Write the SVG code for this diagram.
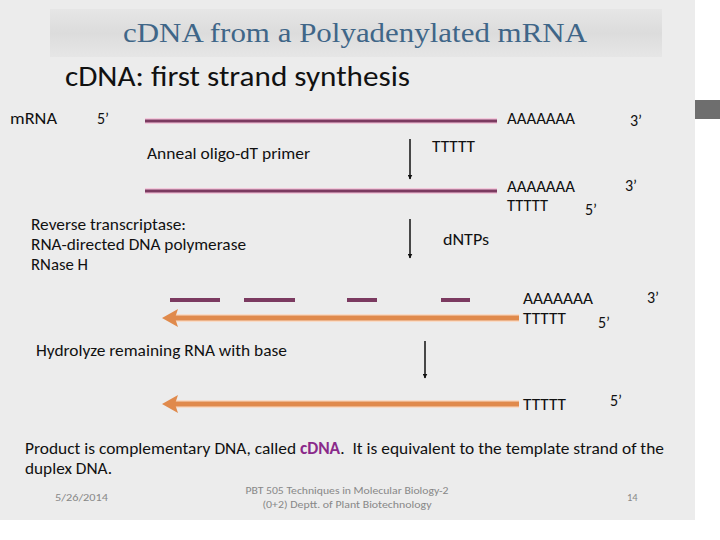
<svg xmlns="http://www.w3.org/2000/svg" width="720" height="540" viewBox="0 0 720 540">
<style>
text{font-family:"Carlito","Liberation Sans","Open Sans",sans-serif;fill:#111}
.s{font-size:16px}
.b{font-size:17px}
.f{font-size:10.5px;fill:#888}
.rna{stroke:#7b3a60;stroke-width:3;fill:none}
.halo{stroke:#f3c9dc;stroke-width:6;fill:none}
.dna{stroke:#e08a4c;stroke-width:5;fill:none}
.dhalo{stroke:#f8dcc8;stroke-width:8;fill:none}
.arr{stroke:#111;stroke-width:1.5;fill:none}
</style>
<defs>
<linearGradient id="tg" x1="0" y1="0" x2="0" y2="1">
<stop offset="0" stop-color="#e6e6e6"/><stop offset="0.5" stop-color="#dcdcdc"/><stop offset="1" stop-color="#e6e6e6"/>
</linearGradient>
<marker id="ah" viewBox="0 0 10 10" refX="9" refY="5" markerWidth="5" markerHeight="5" orient="auto" markerUnits="userSpaceOnUse">
<path d="M0,0 L10,5 L0,10 z" fill="#111"/>
</marker>
</defs>
<rect x="0" y="0" width="720" height="540" fill="#ffffff"/>
<rect x="0" y="0" width="695" height="520" fill="#ececec"/>
<rect x="695" y="100" width="25" height="19" fill="#6e6e6e"/>
<g id="title">
<rect x="50" y="9" width="612" height="48" fill="url(#tg)"/>
<text x="355" y="42" text-anchor="middle" style="font-family:'Liberation Serif',serif;font-size:27px;fill:#3f6688" textLength="464" lengthAdjust="spacingAndGlyphs">cDNA from a Polyadenylated mRNA</text>
</g>
<g id="subtitle"><text x="65" y="86" style="font-size:29px" textLength="345" lengthAdjust="spacingAndGlyphs">cDNA: first strand synthesis</text></g>

<g id="step1">
<text x="10" y="124" class="s" textLength="47" lengthAdjust="spacingAndGlyphs">mRNA</text>
<text x="97" y="124" class="s">5’</text>
<line x1="145" y1="121" x2="497" y2="121" class="halo"/>
<line x1="145" y1="121" x2="497" y2="121" class="rna"/>
<text x="507" y="124" class="s" textLength="68" lengthAdjust="spacingAndGlyphs">AAAAAAA</text>
<text x="630" y="126" class="s">3’</text>
</g>
<g id="label1">
<text x="147" y="159" class="s" textLength="163" lengthAdjust="spacingAndGlyphs">Anneal oligo-dT primer</text>
<text x="432" y="152" class="s" textLength="43" lengthAdjust="spacingAndGlyphs">TTTTT</text>
</g>
<g id="step2">
<line x1="145" y1="191" x2="497" y2="191" class="halo"/>
<line x1="145" y1="191" x2="497" y2="191" class="rna"/>
<text x="507" y="192" class="s" textLength="68" lengthAdjust="spacingAndGlyphs">AAAAAAA</text>
<text x="625" y="191" class="s">3’</text>
<text x="507" y="211" class="s" textLength="41" lengthAdjust="spacingAndGlyphs">TTTTT</text>
<text x="585" y="215" class="s">5’</text>
</g>
<g id="label2">
<text x="31" y="230" class="s" textLength="155" lengthAdjust="spacingAndGlyphs">Reverse transcriptase:</text>
<text x="31" y="250" class="s" textLength="215" lengthAdjust="spacingAndGlyphs">RNA-directed DNA polymerase</text>
<text x="31" y="270" class="s" textLength="57" lengthAdjust="spacingAndGlyphs">RNase H</text>
<text x="443" y="245" class="s" textLength="46" lengthAdjust="spacingAndGlyphs">dNTPs</text>
</g>
<g id="step3">
<g class="rna" style="stroke-width:4">
<line x1="170" y1="300" x2="220" y2="300"/>
<line x1="244" y1="300" x2="295" y2="300"/>
<line x1="347" y1="300" x2="377" y2="300"/>
<line x1="441" y1="300" x2="470" y2="300"/>
</g>
<line x1="519" y1="318" x2="175" y2="318" class="dhalo"/>
<line x1="519" y1="318" x2="175" y2="318" class="dna"/>
<path d="M162,318 L178,309 L175,318 L178,327 z" fill="#e08a4c"/>
<text x="523" y="304" class="s" textLength="70" lengthAdjust="spacingAndGlyphs">AAAAAAA</text>
<text x="647" y="303" class="s">3’</text>
<text x="523" y="324" class="s" textLength="43" lengthAdjust="spacingAndGlyphs">TTTTT</text>
<text x="598" y="328" class="s">5’</text>
</g>
<g id="label3"><text x="36" y="356" class="s" textLength="251" lengthAdjust="spacingAndGlyphs">Hydrolyze remaining RNA with base</text></g>
<g id="step4">
<line x1="519" y1="404" x2="175" y2="404" class="dhalo"/>
<line x1="519" y1="404" x2="175" y2="404" class="dna"/>
<path d="M162,404 L178,395 L175,404 L178,413 z" fill="#e08a4c"/>
<text x="523" y="410" class="s" textLength="43" lengthAdjust="spacingAndGlyphs">TTTTT</text>
<text x="610" y="406" class="s">5’</text>
</g>
<g id="connectors">
<line x1="410" y1="139" x2="410" y2="179" class="arr" marker-end="url(#ah)"/>
<line x1="410" y1="219" x2="410" y2="258" class="arr" marker-end="url(#ah)"/>
<line x1="425" y1="341" x2="425" y2="378" class="arr" marker-end="url(#ah)"/>
</g>
<g id="caption">
<text x="25" y="454" class="b" xml:space="preserve" textLength="639" lengthAdjust="spacingAndGlyphs">Product is complementary DNA, called <tspan style="fill:#8a2a8a;font-weight:bold">cDNA</tspan>.  It is equivalent to the template strand of the</text>
<text x="25" y="474" class="b" textLength="87" lengthAdjust="spacingAndGlyphs">duplex DNA.</text>
</g>
<g id="footer">
<text x="55" y="501" class="f" textLength="53" lengthAdjust="spacingAndGlyphs">5/26/2014</text>
<text x="347" y="494" class="f" text-anchor="middle" textLength="203" lengthAdjust="spacingAndGlyphs">PBT 505 Techniques in Molecular Biology-2</text>
<text x="347" y="508" class="f" text-anchor="middle" textLength="169" lengthAdjust="spacingAndGlyphs">(0+2) Deptt. of Plant Biotechnology</text>
<text x="627" y="501" class="f">14</text>
</g>
</svg>
